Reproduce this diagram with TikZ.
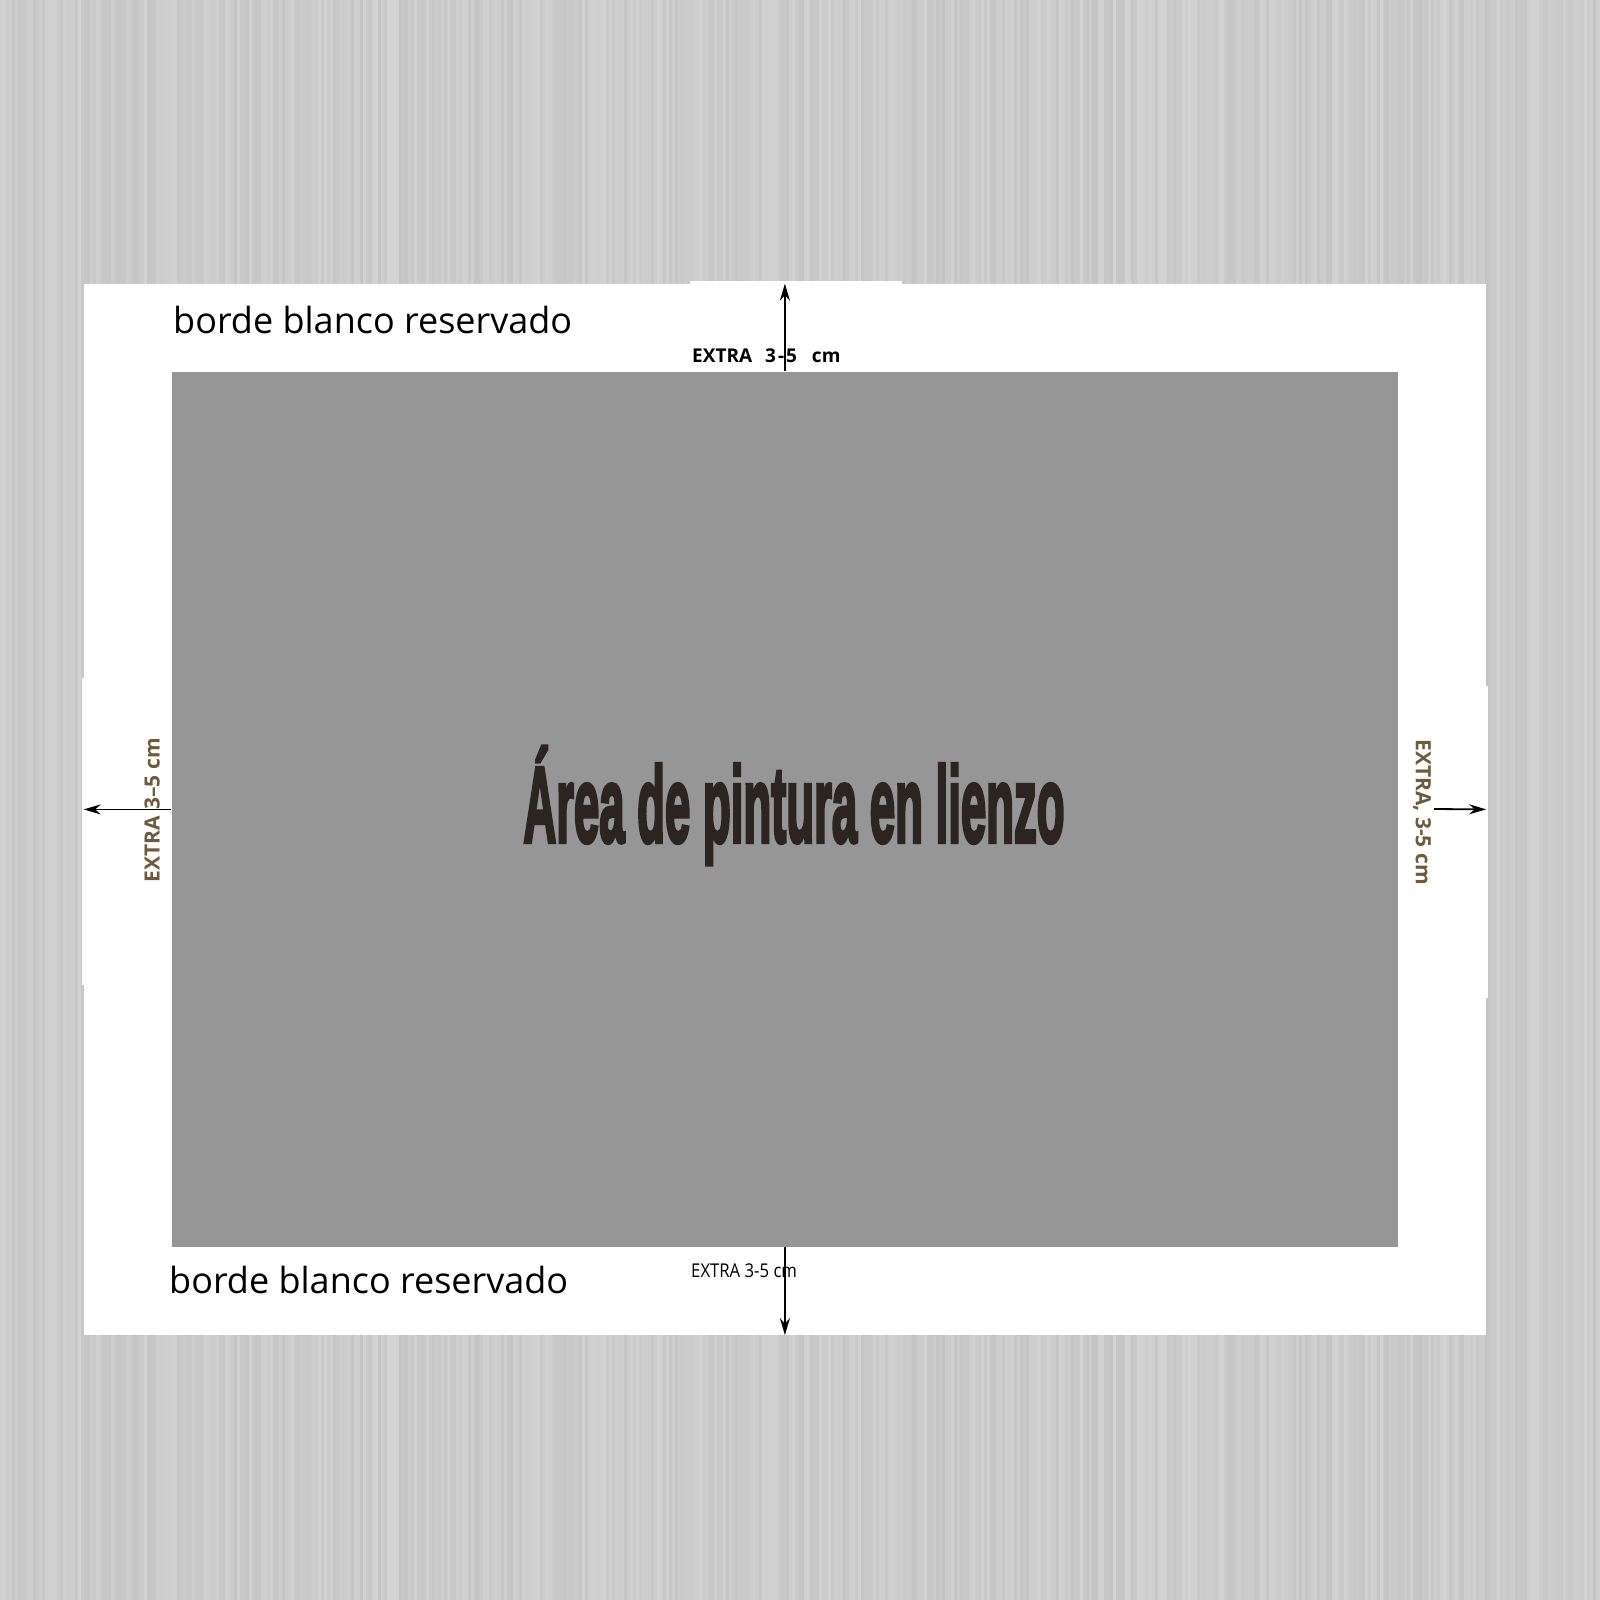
\documentclass[tikz,border=0pt]{standalone}
\usepackage{fontspec}
\usepackage{graphicx}
\setmainfont{Open Sans}
\newfontfamily\titulofont{Liberation Sans}[UprightFont=* Bold, FakeBold=4]
\usetikzlibrary{positioning,arrows.meta}

\definecolor{fondo}{HTML}{CACACA}
\definecolor{lienzogris}{HTML}{969696}
\definecolor{marron}{HTML}{6E5A3C}
\definecolor{tinta}{HTML}{2B2420}

\begin{document}
\begin{tikzpicture}[x=1pt,y=-1pt,
  flecha/.style={-{Stealth[length=17pt,width=10pt]},line width=1.8pt,black},
  borde/.style={font=\fontsize{36}{36}\selectfont,text=black,inner sep=0pt,anchor=base west},
  lado/.style={font=\bfseries\fontsize{21}{21}\selectfont,text=marron,inner sep=0pt}]

\useasboundingbox (0,0) rectangle (1600,1600);

% Wood background
\fill[fondo] (0,0) rectangle (1600,1600);
\pgfmathsetseed{11}
\foreach \i in {0,3,...,1599} {
  \pgfmathsetmacro\g{77+6*rnd}
  \fill[white!\g!black] (\i,0) rectangle +(3,1600);
}

% White paper sheet
\node[fill=white, minimum width=1402, minimum height=1051, inner sep=0, anchor=north west] (papel) at (83.7,283.7) {};
\fill[white] (690,280.5) rectangle (902,284);
\fill[white] (81.5,678) rectangle (84,985);
\fill[white] (1485,686) rectangle (1488,998);

% Canvas painting area
\node[fill=lienzogris, minimum width=1226.6, minimum height=875.6, inner sep=0, anchor=north west] (lienzo) at (171.4,371.4) {};

% Main title
\node[inner sep=0, anchor=base, text=tinta] (titulo) at (794,842)
  {\scalebox{0.41}[0.97]{\titulofont\fontsize{111}{111}\selectfont Área de pintura en lienzo}};

% Reserved border labels
\node[borde] (bordesup) at (173,333) {borde blanco reservado};
\node[borde] (bordeinf) at (169,1293) {borde blanco reservado};

% Extra labels
\node[inner sep=0, anchor=base west, font=\bfseries\fontsize{19}{19}\selectfont] (extrasup) at (692,362)
  {EXTRA\hspace{13pt}3\hspace{2pt}-\hspace{2pt}5\hspace{15pt}cm};
\node[inner sep=0, anchor=base west] (extrainf) at (691,1277)
  {\scalebox{0.88}[1]{\fontsize{19}{19}\selectfont EXTRA 3-5 cm}};
\node[lado, rotate=90] (extraizq) at (152,810) {EXTRA\hspace{6pt}3–5\hspace{6pt}cm};
\node[lado, rotate=-90] (extrader) at (1422,812) {EXTRA, 3-5 cm};
\coordinate (inicioder) at (1434,809);

% Arrows
\draw[flecha] (lienzo.north) -- (papel.north);
\draw[flecha] (lienzo.south) -- (papel.south);
\draw[flecha] (lienzo.west) -- (papel.west);
\draw[flecha] (inicioder) -- (papel.east);

\end{tikzpicture}
\end{document}
